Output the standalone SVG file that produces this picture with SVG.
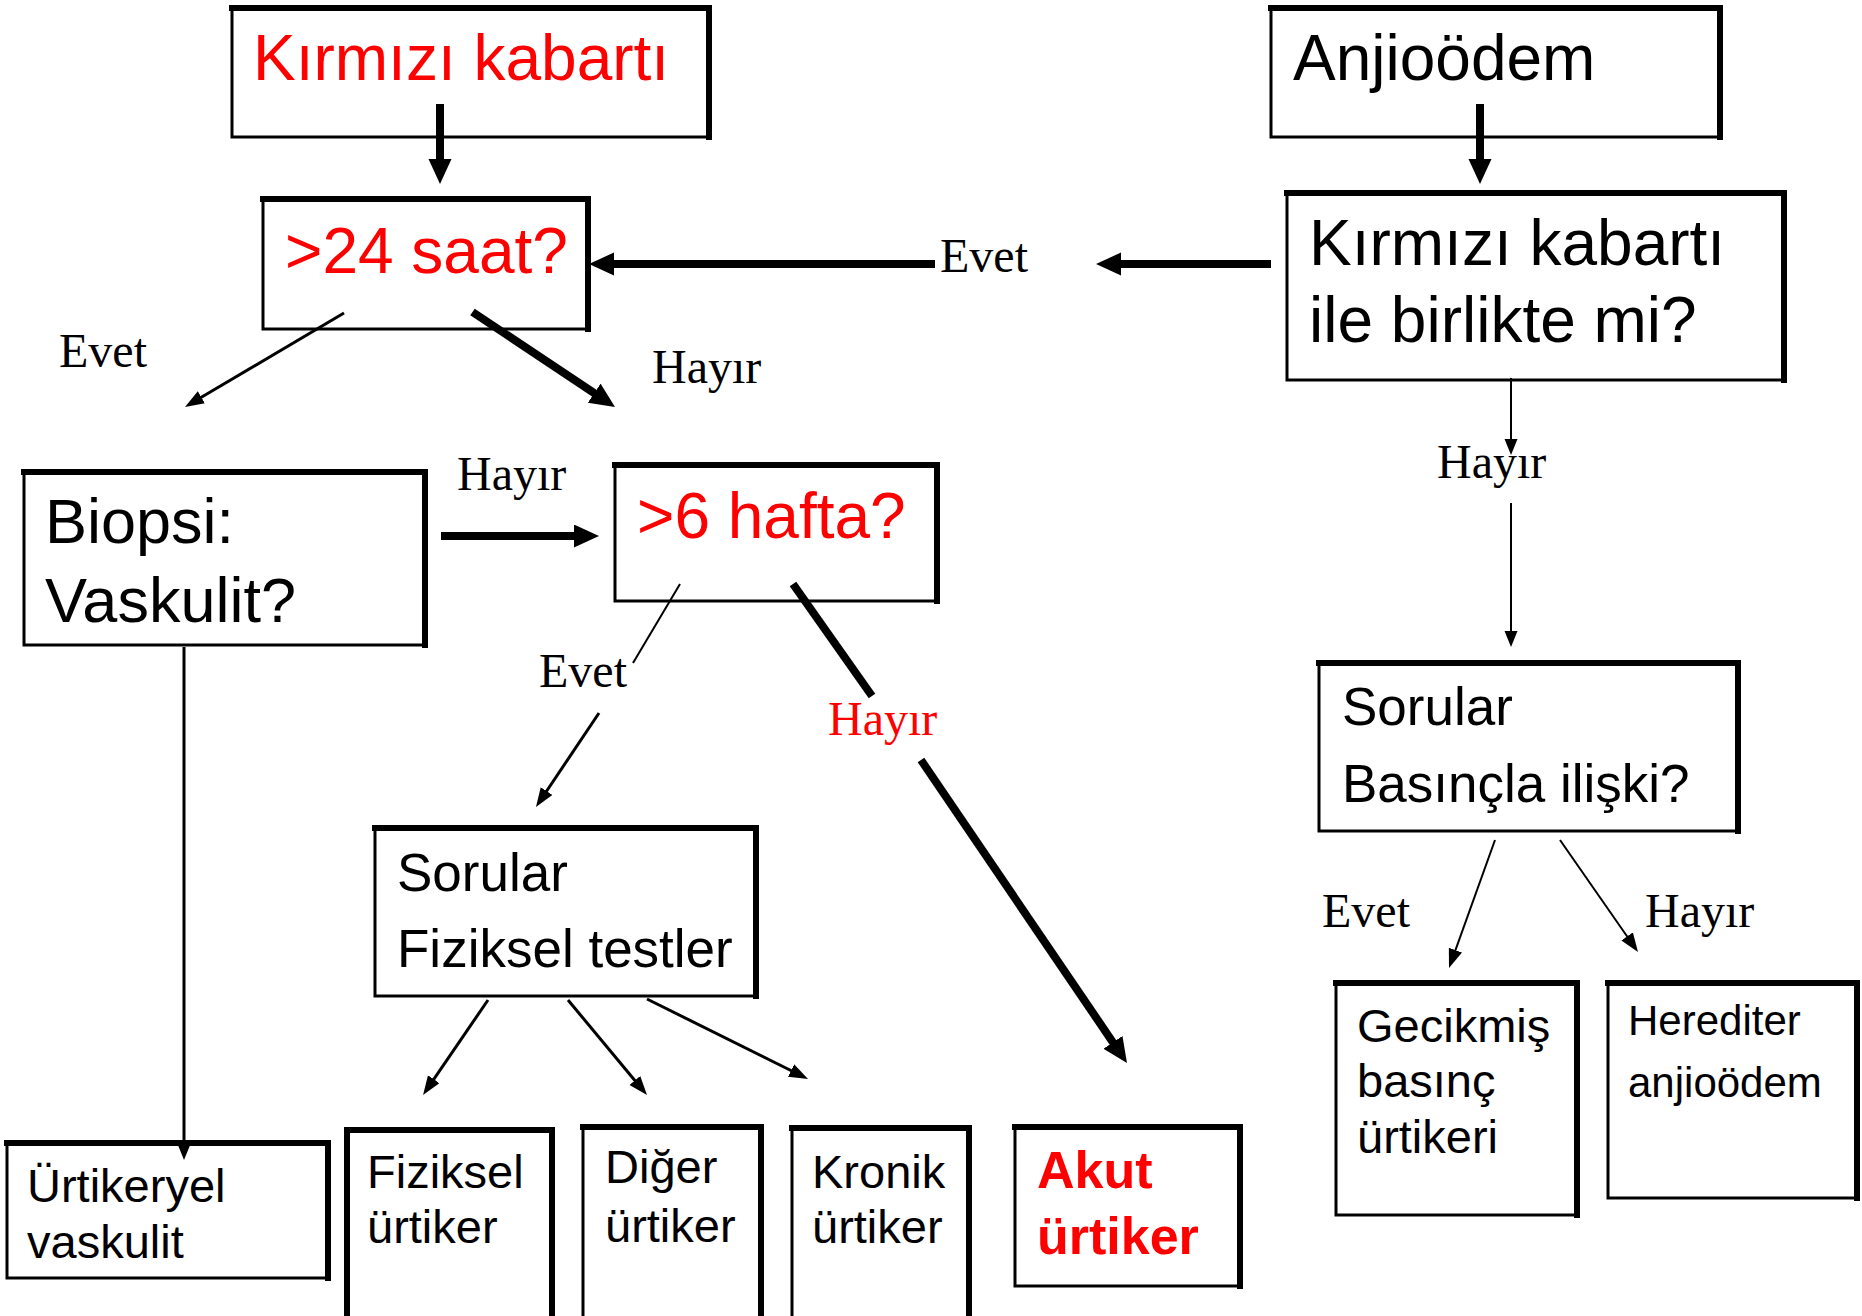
<svg xmlns="http://www.w3.org/2000/svg" width="1862" height="1316" viewBox="0 0 1862 1316">
<style>
.bx{fill:#fff;stroke:#000;stroke-width:3}
.tr{fill:none;stroke:#000;stroke-width:6;stroke-linecap:square}
.t{font-family:"Liberation Sans",Arial,sans-serif;fill:#000}
.lb{font-family:"Liberation Serif","Times New Roman",serif;font-size:48px;fill:#000}
.t.red,.lb.red{fill:#ff0000}
.thick{stroke:#000;stroke-width:8;fill:none}
.thin{stroke:#000;stroke-width:3;fill:none}
.hair{stroke:#000;stroke-width:2;fill:none}
</style>
<defs>
<marker id="big" markerUnits="userSpaceOnUse" markerWidth="26" markerHeight="24" refX="1" refY="11.5" orient="auto"><path d="M0,0 L25,11.5 L0,23 z" fill="#000"/></marker>
<marker id="mid" markerUnits="userSpaceOnUse" markerWidth="20" markerHeight="16" refX="1" refY="7" orient="auto"><path d="M0,0 L19,7 L0,14 z" fill="#000"/></marker>
<marker id="sm" markerUnits="userSpaceOnUse" markerWidth="17" markerHeight="14" refX="1" refY="6.5" orient="auto"><path d="M0,0 L16,6.5 L0,13 z" fill="#000"/></marker>
</defs>
<rect width="1862" height="1316" fill="#fff"/>

<g id="n-kirmizi">
<rect class="bx" x="232" y="8" width="477" height="129"/>
<path class="tr" d="M232,8 H709 V137"/>
<text class="t red" x="253" y="80" font-size="64">Kırmızı kabartı</text>
</g>
<g id="n-24saat">
<rect class="bx" x="263" y="199" width="325" height="130"/>
<path class="tr" d="M263,199 H588 V329"/>
<text class="t red" x="285" y="273" font-size="64">&gt;24 saat?</text>
</g>
<g id="n-anjio">
<rect class="bx" x="1271" y="8" width="449" height="129"/>
<path class="tr" d="M1271,8 H1720 V137"/>
<text class="t" x="1293" y="80" font-size="64">Anjioödem</text>
</g>
<g id="n-birlikte">
<rect class="bx" x="1287" y="193" width="497" height="187"/>
<path class="tr" d="M1287,193 H1784 V380"/>
<text class="t" x="1309" y="265" font-size="64">Kırmızı kabartı</text>
<text class="t" x="1309" y="342" font-size="64">ile birlikte mi?</text>
</g>
<g id="n-biopsi">
<rect class="bx" x="24" y="472" width="401" height="173"/>
<path class="tr" d="M24,472 H425 V645"/>
<text class="t" x="45" y="543" font-size="63">Biopsi:</text>
<text class="t" x="45" y="622" font-size="63">Vaskulit?</text>
</g>
<g id="n-6hafta">
<rect class="bx" x="615" y="465" width="322" height="136"/>
<path class="tr" d="M615,465 H937 V601"/>
<text class="t red" x="637" y="538" font-size="64">&gt;6 hafta?</text>
</g>
<g id="n-sorular1">
<rect class="bx" x="375" y="828" width="381" height="168"/>
<path class="tr" d="M375,828 H756 V996"/>
<text class="t" x="397" y="891" font-size="53">Sorular</text>
<text class="t" x="397" y="967" font-size="53">Fiziksel testler</text>
</g>
<g id="n-sorular2">
<rect class="bx" x="1319" y="663" width="419" height="168"/>
<path class="tr" d="M1319,663 H1738 V831"/>
<text class="t" x="1342" y="725" font-size="53">Sorular</text>
<text class="t" x="1342" y="802" font-size="53">Basınçla ilişki?</text>
</g>
<g id="n-urtikeryel">
<rect class="bx" x="7" y="1143" width="321" height="135"/>
<path class="tr" d="M7,1143 H328 V1278"/>
<text class="t" x="27" y="1202" font-size="47">Ürtikeryel</text>
<text class="t" x="27" y="1258" font-size="47">vaskulit</text>
</g>
<g id="n-fiziksel">
<rect class="bx" x="347" y="1130" width="205" height="200"/>
<path class="tr" d="M347,1330 V1130 H552 V1330"/>
<text class="t" x="367" y="1188" font-size="47">Fiziksel</text>
<text class="t" x="367" y="1243" font-size="47">ürtiker</text>
</g>
<g id="n-diger">
<rect class="bx" x="583" y="1127" width="178" height="203"/>
<path class="tr" d="M583,1127 H761 V1330"/>
<text class="t" x="605" y="1183" font-size="47">Diğer</text>
<text class="t" x="605" y="1242" font-size="47">ürtiker</text>
</g>
<g id="n-kronik">
<rect class="bx" x="792" y="1128" width="177" height="202"/>
<path class="tr" d="M792,1128 H969 V1330"/>
<text class="t" x="812" y="1188" font-size="47">Kronik</text>
<text class="t" x="812" y="1243" font-size="47">ürtiker</text>
</g>
<g id="n-akut">
<rect class="bx" x="1015" y="1127" width="225" height="159"/>
<path class="tr" d="M1015,1127 H1240 V1286"/>
<text class="t red" x="1037" y="1188" font-size="52" font-weight="bold">Akut</text>
<text class="t red" x="1037" y="1254" font-size="52" font-weight="bold">ürtiker</text>
</g>
<g id="n-gecikmis">
<rect class="bx" x="1336" y="983" width="241" height="232"/>
<path class="tr" d="M1336,983 H1577 V1215"/>
<text class="t" x="1357" y="1042" font-size="47">Gecikmiş</text>
<text class="t" x="1357" y="1097" font-size="47">basınç</text>
<text class="t" x="1357" y="1153" font-size="47">ürtikeri</text>
</g>
<g id="n-herediter">
<rect class="bx" x="1608" y="983" width="249" height="215"/>
<path class="tr" d="M1608,983 H1857 V1198"/>
<text class="t" x="1628" y="1035" font-size="42">Herediter</text>
<text class="t" x="1628" y="1097" font-size="42">anjioödem</text>
</g>

<g id="connectors">
<line class="thick" x1="440" y1="104" x2="440" y2="160" marker-end="url(#big)"/>
<line class="thick" x1="1480" y1="104" x2="1480" y2="160" marker-end="url(#big)"/>
<line class="thick" x1="935" y1="264" x2="613" y2="264" marker-end="url(#big)"/>
<line class="thick" x1="1271" y1="264" x2="1120" y2="264" marker-end="url(#big)"/>
<line class="hair" x1="1511" y1="378" x2="1511" y2="440" marker-end="url(#sm)"/>
<line class="hair" x1="1511" y1="503" x2="1511" y2="632" marker-end="url(#sm)"/>
<line class="thin" x1="344" y1="313" x2="200.5" y2="397.8" marker-end="url(#mid)"/>
<line class="thick" x1="472.5" y1="312" x2="595" y2="393.7" marker-end="url(#big)"/>
<line class="thick" x1="441" y1="536" x2="575" y2="536" marker-end="url(#big)"/>
<line class="thin" x1="184" y1="647" x2="184" y2="1145" marker-end="url(#sm)"/>
<line class="hair" x1="680" y1="584" x2="633" y2="663"/>
<line class="thin" x1="599" y1="713" x2="546" y2="792" marker-end="url(#mid)"/>
<line class="thick" x1="793" y1="584" x2="872" y2="696"/>
<line class="thick" x1="921" y1="760" x2="1113.5" y2="1043.2" marker-end="url(#big)"/>
<line class="thin" x1="488" y1="1000" x2="433.2" y2="1080.1" marker-end="url(#mid)"/>
<line class="thin" x1="568" y1="1000" x2="635.5" y2="1081.2" marker-end="url(#mid)"/>
<line class="thin" x1="647" y1="999" x2="791.9" y2="1071" marker-end="url(#mid)"/>
<line class="hair" x1="1495" y1="840" x2="1455.1" y2="951.1" marker-end="url(#mid)"/>
<line class="hair" x1="1560" y1="840" x2="1627.7" y2="937.2" marker-end="url(#mid)"/>
<text class="lb" x="940" y="272">Evet</text>
<text class="lb" x="59" y="367">Evet</text>
<text class="lb" x="652" y="383">Hayır</text>
<text class="lb" x="457" y="490">Hayır</text>
<text class="lb" x="539" y="687">Evet</text>
<text class="lb red" x="828" y="735">Hayır</text>
<text class="lb" x="1437" y="478">Hayır</text>
<text class="lb" x="1322" y="927">Evet</text>
<text class="lb" x="1645" y="927">Hayır</text>
</g>
</svg>
